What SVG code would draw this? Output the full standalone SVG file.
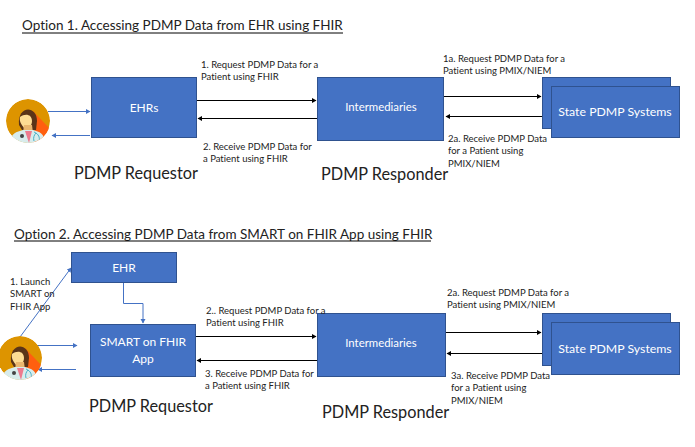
<svg xmlns="http://www.w3.org/2000/svg" width="695" height="447" viewBox="0 0 695 447">
<style>
text{font-family:Lato,"Open Sans","Liberation Sans",sans-serif;fill:#222;font-variant-ligatures:none}
.b{fill:#4472c4;stroke:#2f528f;stroke-width:1}
.w{fill:#fff;text-anchor:middle}
.s{font-size:9.5px}
.h{font-size:16.3px}
.t{font-size:13.5px}
.k{stroke:#000;stroke-width:1;fill:none}
.u{stroke:#4472c4;stroke-width:1;fill:none}
</style>
<defs>
<marker id="ak" markerWidth="6" markerHeight="6" refX="4" refY="2.5" orient="auto"><path d="M0 0L4.500 2.500L0 5z" fill="#000"/></marker>
<marker id="au" markerWidth="6" markerHeight="6" refX="4" refY="2.500" orient="auto"><path d="M0 0L4.500 2.500L0 5z" fill="#4472c4"/></marker>
<clipPath id="c1"><circle cx="0" cy="0" r="22"/></clipPath>
<g id="doc"><g clip-path="url(#c1)">
<circle r="22" fill="#dd9400"/>
<path d="M5 -10L24 10L24 24L5 24z" fill="#ff5f0f"/>
<path d="M-9 4C-11 -16 9 -16 9 0L8 9L-6 9z" fill="#5a3418"/>
<path d="M-8 -4C-3 -8 4 -7 4 0C4 6 -1 8 -4 7C-6 4 -9 1 -8 -4z" fill="#fddc94"/>
<path d="M-4 4L4 4L5 12L-5 12z" fill="#eab770"/>
<path d="M-18 24C-18 12 -12 11 -5 9L5 9C12 11 17 12 17 24z" fill="#d8ecec"/>
<path d="M-3 10L4 10L1 22z" fill="#ee7a8e"/>
<circle cx="-6" cy="15" r="2" fill="#444"/>
<path d="M6 11C11 13 12 17 11 20M6 20C5 17 6 14 8 12" fill="none" stroke="#48b0c8" stroke-width="1"/>
</g></g>
</defs>

<text x="22" y="30" class="t">Option 1. Accessing PDMP Data from EHR using FHIR</text>
<path d="M22 33H343" stroke="#000" fill="none"/>
<text x="14" y="239" class="t">Option 2. Accessing PDMP Data from SMART on FHIR App using FHIR</text>
<path d="M14 241H431" stroke="#000" fill="none"/>

<g id="connectors">
<path class="u" d="M48 111.500H90" marker-end="url(#au)"/>
<path class="u" d="M90 135.500H52" marker-end="url(#au)"/>
<path class="k" d="M197 100.500H316" marker-end="url(#ak)"/>
<path class="k" d="M317 118.500H198" marker-end="url(#ak)"/>
<path class="k" d="M443 96.500H541" marker-end="url(#ak)"/>
<path class="k" d="M542 116.500H446" marker-end="url(#ak)"/>
<path class="u" d="M20 337L71 268" marker-end="url(#au)"/>
<path class="u" d="M123.500 282V303.500H143V323" marker-end="url(#au)"/>
<path class="u" d="M35 345.500H77" marker-end="url(#au)"/>
<path class="u" d="M76 369.500H38" marker-end="url(#au)"/>
<path class="k" d="M196 336.500H316" marker-end="url(#ak)"/>
<path class="k" d="M317 360.500H197" marker-end="url(#ak)"/>
<path class="k" d="M446 332.500H541" marker-end="url(#ak)"/>
<path class="k" d="M542 353.500H447" marker-end="url(#ak)"/>
</g>

<g id="avatar1"><use href="#doc" x="28" y="121"/></g>
<g id="avatar2"><use href="#doc" x="20" y="358"/></g>

<g id="ehrs"><rect class="b" x="91.500" y="77.500" width="105" height="60"/><text class="w" x="144" y="112" font-size="12">EHRs</text></g>
<g id="intermediaries1"><rect class="b" x="317.500" y="77.500" width="126" height="63"/><text class="w" x="381" y="111" font-size="11.400">Intermediaries</text></g>
<g id="state1-back"><rect class="b" x="542.500" y="77.500" width="128" height="51"/></g>
<g id="state1"><rect class="b" x="551.500" y="86.500" width="128" height="51"/><text class="w" x="615" y="116" font-size="12.300">State PDMP Systems</text></g>

<g id="ehr"><rect class="b" x="71.500" y="252.500" width="105" height="30"/><text class="w" x="124" y="272" font-size="12">EHR</text></g>
<g id="smart"><rect class="b" x="90.500" y="324.500" width="105" height="52"/><text class="w" x="143" y="346" font-size="12">SMART on FHIR</text><text class="w" x="143" y="363" font-size="12">App</text></g>
<g id="intermediaries2"><rect class="b" x="317.500" y="313.500" width="128" height="63"/><text class="w" x="381" y="347" font-size="11.400">Intermediaries</text></g>
<g id="state2-back"><rect class="b" x="542.500" y="313.500" width="128" height="52"/></g>
<g id="state2"><rect class="b" x="551.500" y="322.500" width="128" height="52"/><text class="w" x="615" y="353" font-size="12.300">State PDMP Systems</text></g>

<g id="labels">
<text class="s" x="201" y="68">1. Request PDMP Data for a</text>
<text class="s" x="201" y="80">Patient using FHIR</text>
<text class="s" x="203" y="150">2. Receive PDMP Data for</text>
<text class="s" x="203" y="162">a Patient using FHIR</text>
<text class="s" x="443" y="62">1a. Request PDMP Data for a</text>
<text class="s" x="443" y="74">Patient using PMIX/NIEM</text>
<text class="s" x="448" y="142">2a. Receive PDMP Data</text>
<text class="s" x="448" y="154">for a Patient using</text>
<text class="s" x="448" y="167">PMIX/NIEM</text>
<text class="s" x="10" y="285">1. Launch</text>
<text class="s" x="10" y="297">SMART on</text>
<text class="s" x="10" y="310">FHIR App</text>
<text class="s" x="206" y="314">2.. Request PDMP Data for a</text>
<text class="s" x="206" y="326">Patient using FHIR</text>
<text class="s" x="205" y="377">3. Receive PDMP Data for</text>
<text class="s" x="205" y="389">a Patient using FHIR</text>
<text class="s" x="447" y="296">2a. Request PDMP Data for a</text>
<text class="s" x="447" y="308">Patient using PMIX/NIEM</text>
<text class="s" x="451" y="379">3a. Receive PDMP Data</text>
<text class="s" x="451" y="391">for a Patient using</text>
<text class="s" x="451" y="404">PMIX/NIEM</text>
<text class="h" x="74" y="179">PDMP Requestor</text>
<text class="h" x="321" y="180">PDMP Responder</text>
<text class="h" x="89" y="412">PDMP Requestor</text>
<text class="h" x="322" y="418">PDMP Responder</text>
</g>
</svg>
